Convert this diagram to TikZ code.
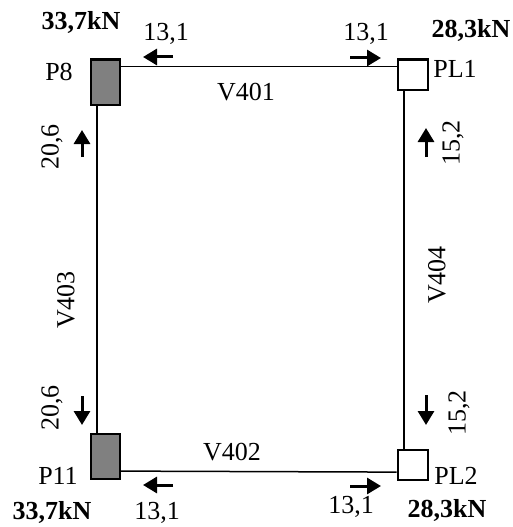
\documentclass[tikz,border=0pt]{standalone}
\usepackage{fontspec}
\setmainfont{Liberation Serif}
\usetikzlibrary{arrows.meta}
\begin{document}
\begin{tikzpicture}[x=1pt,y=-1pt,
  lbl/.style={font=\fontsize{26}{26}\selectfont, inner sep=0pt},
  bl/.style={font=\bfseries\fontsize{26}{26}\selectfont, inner sep=0pt},
  colbox/.style={draw, line width=2.6pt, fill={rgb,255:red,128;green,128;blue,128}, minimum width=29pt, minimum height=45pt, inner sep=0pt, anchor=north west},
  sqbox/.style={draw, line width=2.6pt, fill=white, minimum width=30pt, minimum height=30pt, inner sep=0pt, anchor=north west},
  beam/.style={line width=1.5pt},
  force/.style={line width=3pt, -{Triangle[length=14pt,width=16pt]}}]
\useasboundingbox (0,0) rectangle (512,527);
% supports
\node[colbox] (p8) at (89.5,58.5) {};
\node[colbox] (p11) at (89.5,432.5) {};
\node[sqbox] (pl1) at (396.5,58.5) {};
\node[sqbox] (pl2) at (396.5,448.5) {};
% beams
\draw[beam] ([yshift=-8pt]p8.north east) -- ([yshift=-8pt]pl1.north west);
\draw[beam] ([yshift=9pt]p11.south east) -- ([yshift=9pt]pl2.south west);
\draw[beam] ([xshift=7.5pt]p8.south west) -- ([xshift=7.5pt]p11.north west);
\draw[beam] ([xshift=7.5pt]pl1.south west) -- ([xshift=7.5pt]pl2.north west);
% labels
\node[bl] (l1) at (81,22) {33,7kN};
\node[lbl] (l2) at (59,72) {P8};
\node[lbl] (l3) at (166,34) {13,1};
\node[lbl] (l4) at (246,92) {V401};
\node[lbl] (l5) at (366,34) {13,1};
\node[bl] (l6) at (471,30) {28,3kN};
\node[lbl] (l7) at (455,69) {PL1};
\node[lbl, rotate=90] (l8) at (52,147) {20,6};
\node[lbl, rotate=90] (l9) at (453,143) {15,2};
\node[lbl, rotate=90] (l10) at (66,300) {V403};
\node[lbl, rotate=90] (l11) at (437,275) {V404};
\node[lbl, rotate=90] (l12) at (52,408) {20,6};
\node[lbl, rotate=90] (l13) at (459,413) {15,2};
\node[lbl] (l14) at (232,452) {V402};
\node[lbl] (l15) at (58,476) {P11};
\node[bl] (l16) at (52,512) {33,7kN};
\node[lbl] (l17) at (157,513) {13,1};
\node[lbl] (l18) at (351,507) {13,1};
\node[lbl] (l19) at (456,476) {PL2};
\node[bl] (l20) at (447,510) {28,3kN};
% force arrows
\draw[force] (173,57) -- (143,57);
\draw[force] (350,58) -- (381,58);
\draw[force] (82,157) -- (82,130);
\draw[force] (426,157) -- (426,128);
\draw[force] (82,396) -- (82,425);
\draw[force] (426,395) -- (426,425);
\draw[force] (173,485) -- (143,485);
\draw[force] (350,486) -- (381,486);
\end{tikzpicture}
\end{document}
